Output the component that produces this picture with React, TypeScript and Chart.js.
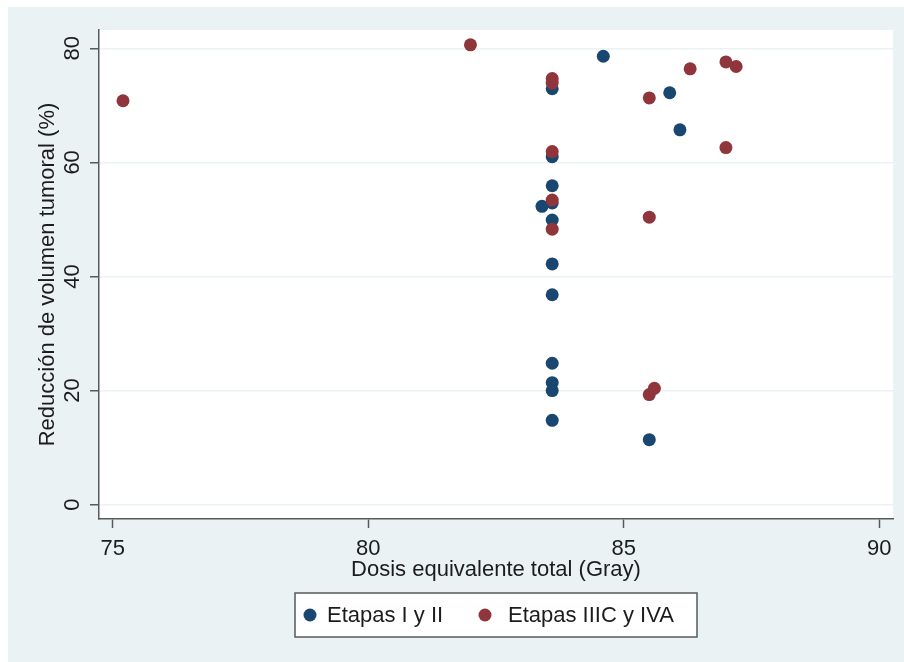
import { useEffect, useRef } from "react";
import { Chart, registerables } from "chart.js";

Chart.register(...registerables);

const FONT = "'Liberation Sans', Arial, Helvetica, sans-serif";
const BLUE = "#1a476f";
const RED = "#90353b";
const BG = "#eaf2f3";
const GRID = "#eaf2f3";
const AXIS = "#555a5c";
const TEXT = "#1c1c1c";

const xTicks = [75, 80, 85, 90];
const yTicks = [0, 20, 40, 60, 80];

const seriesLabels = ["Etapas I y II", "Etapas IIIC y IVA"];
const xTitle = "Dosis equivalente total (Gray)";
const yTitle = "Reducción de volumen tumoral (%)";

const etapasI_II_x = [83.6, 84.6, 85.9, 86.1, 83.6, 83.6, 83.4, 83.6, 83.6, 83.6, 83.6, 83.6, 83.6, 83.6, 83.6, 85.5];
const etapasI_II_y = [72.9, 78.6, 72.2, 65.7, 61.0, 55.9, 52.3, 52.9, 49.9, 42.2, 36.8, 24.8, 21.4, 20.0, 14.8, 11.4];

const etapasIIIC_IVA_x = [75.2, 82.0, 83.6, 83.6, 85.5, 86.3, 87.0, 87.2, 87.0, 83.6, 83.6, 83.6, 85.5, 85.5, 85.6];
const etapasIIIC_IVA_y = [70.8, 80.6, 74.7, 73.9, 71.3, 76.4, 77.6, 76.8, 62.6, 61.9, 53.4, 48.3, 50.4, 19.3, 20.4];

const seriesColors = [BLUE, RED];

const bgPlugin = {
  id: "bgPlugin",
  beforeDraw(chart: any) {
    const { ctx, chartArea, width, height } = chart;
    ctx.save();
    ctx.fillStyle = BG;
    ctx.fillRect(0, 0, width, height);
    ctx.fillStyle = "#ffffff";
    ctx.fillRect(chartArea.left, chartArea.top, chartArea.right - chartArea.left, chartArea.bottom - chartArea.top);
    ctx.restore();
  },
};

const yLabelPlugin = {
  id: "yLabelPlugin",
  afterDraw(chart: any) {
    const { ctx, chartArea } = chart;
    const ys = chart.scales.y;
    ctx.save();
    ctx.fillStyle = TEXT;
    ctx.font = `22px ${FONT}`;
    ctx.textAlign = "center";
    ctx.textBaseline = "middle";
    for (const v of yTicks) {
      const py = ys.getPixelForValue(v);
      ctx.save();
      ctx.translate(chartArea.left - 26, py);
      ctx.rotate(-Math.PI / 2);
      ctx.fillText(String(v), 0, 0);
      ctx.restore();
    }
    ctx.restore();
  },
};

const legendPlugin = {
  id: "boxLegend",
  afterDraw(chart: any) {
    const { ctx, chartArea } = chart;
    const cx = (chartArea.left + chartArea.right) / 2;
    const top = chartArea.bottom + 74;
    const h = 44;
    const cy = top + h / 2;
    ctx.save();
    ctx.fillStyle = "#ffffff";
    ctx.fillRect(cx - 201, top, 402, h);
    ctx.strokeStyle = AXIS;
    ctx.lineWidth = 1.5;
    ctx.strokeRect(cx - 201, top, 402, h);
    const circles = [cx - 186, cx - 11];
    const texts = [cx - 169, cx + 12];
    ctx.font = `22px ${FONT}`;
    ctx.textAlign = "left";
    ctx.textBaseline = "middle";
    for (let i = 0; i < 2; i++) {
      ctx.fillStyle = seriesColors[i];
      ctx.beginPath();
      ctx.arc(circles[i], cy, 6.5, 0, Math.PI * 2);
      ctx.fill();
      ctx.fillStyle = TEXT;
      ctx.fillText(seriesLabels[i], texts[i], cy + 1);
    }
    ctx.restore();
  },
};

export default function App() {
  const ref = useRef<HTMLCanvasElement>(null);
  useEffect(() => {
    const chart = new Chart(ref.current!, {
      type: "scatter",
      data: {
        datasets: [
          {
            label: seriesLabels[0],
            data: etapasI_II_x.map((x, i) => ({ x, y: etapasI_II_y[i] })),
            backgroundColor: BLUE,
            borderColor: BLUE,
            pointRadius: 6.5,
            borderWidth: 0,
            order: 1,
          },
          {
            label: seriesLabels[1],
            data: etapasIIIC_IVA_x.map((x, i) => ({ x, y: etapasIIIC_IVA_y[i] })),
            backgroundColor: RED,
            borderColor: RED,
            pointRadius: 6.5,
            borderWidth: 0,
            order: 0,
          },
        ],
      },
      options: {
        animation: false,
        responsive: false,
        maintainAspectRatio: false,
        layout: { padding: { left: 0, right: 11, top: 23, bottom: 73 } },
        plugins: { legend: { display: false }, tooltip: { enabled: false } },
        scales: {
          x: {
            type: "linear",
            min: 74.73,
            max: 90.27,
            afterBuildTicks: (s: any) => {
              s.ticks = xTicks.map((v) => ({ value: v }));
            },
            afterFit: (s: any) => {
              s.height = 70;
            },
            grid: { drawOnChartArea: false, drawTicks: true, tickLength: 9, tickColor: AXIS, tickWidth: 1.5 },
            border: { display: true, color: AXIS, width: 1.5 },
            ticks: { color: TEXT, font: { family: FONT, size: 22 }, padding: 8, callback: (v: any) => String(v) },
            title: { display: true, text: xTitle, color: TEXT, font: { family: FONT, size: 22 }, padding: { top: 0, bottom: 6 } },
          },
          y: {
            type: "linear",
            min: -2.5,
            max: 83.2,
            afterBuildTicks: (s: any) => {
              s.ticks = yTicks.map((v) => ({ value: v }));
            },
            afterFit: (s: any) => {
              s.width = 91;
            },
            grid: { color: GRID, lineWidth: 1.5, drawTicks: true, tickLength: 9, tickColor: AXIS, tickWidth: 1.5 },
            border: { display: true, color: AXIS, width: 1.5 },
            ticks: { display: false },
            title: { display: true, text: yTitle, color: TEXT, font: { family: FONT, size: 22 }, padding: { top: 27, bottom: 0 } },
          },
        },
      },
      plugins: [bgPlugin, yLabelPlugin, legendPlugin],
    });
    return () => chart.destroy();
  }, []);
  return (
    <div style={{ position: "absolute", left: 8, top: 7, width: 896, height: 655, background: BG, overflow: "hidden" }}>
      <canvas ref={ref} width={896} height={655} style={{ display: "block" }} />
    </div>
  );
}
